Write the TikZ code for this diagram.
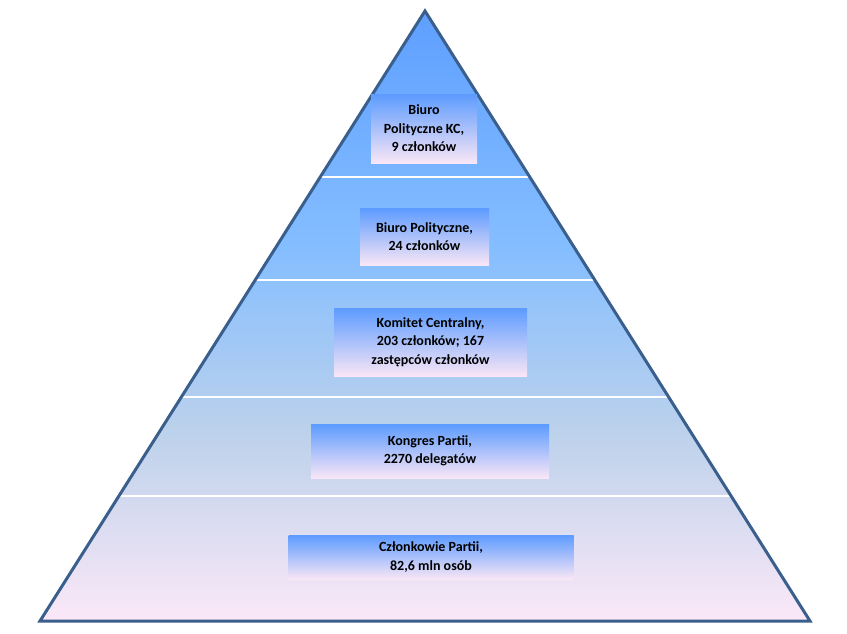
\documentclass[tikz,border=0pt]{standalone}
\usepackage{fontspec}
\setmainfont{Carlito}
\usetikzlibrary{calc}
\definecolor{edgeblue}{HTML}{3A5F8C}
\definecolor{pyrtop}{HTML}{5E9FFF}
\definecolor{pyrupper}{HTML}{85BEFF}
\definecolor{pyrlower}{HTML}{BED2EB}
\definecolor{pyrbot}{HTML}{FBE8F8}
\definecolor{boxtop}{HTML}{5C9BFF}
\definecolor{boxmid}{HTML}{A6CDF6}
\definecolor{boxbot}{HTML}{F9E6F6}
\pgfdeclareverticalshading{pyrshade}{100bp}{color(0bp)=(pyrbot); color(25bp)=(pyrbot);
  color(40bp)=(pyrlower); color(55.5bp)=(pyrupper); color(75bp)=(pyrtop); color(100bp)=(pyrtop)}

\begin{document}
\begin{tikzpicture}[x=1pt, y=-1pt,
  box/.style={rectangle, inner sep=0pt, align=center,
              top color=boxtop, middle color=boxmid, bottom color=boxbot},
  sep/.style={white, line width=2.6pt},
  every node/.style={font=\bfseries\fontsize{14}{18.5}\selectfont}
]
  \useasboundingbox (0,0) rectangle (847,633);
  \coordinate (apex) at (425,11);
  \coordinate (bl) at (40,621);
  \coordinate (br) at (810,621);
  \shade[shading=pyrshade] (apex) -- (bl) -- (br) -- cycle;
  % white bands between levels
  \foreach \t in {0.272, 0.441, 0.633, 0.795}
    \draw[sep] ($(apex)!\t!(bl)$) -- ($(apex)!\t!(br)$);
  \draw[edgeblue, line width=3pt, line join=miter] (apex) -- (bl) -- (br) -- cycle;

  \node[box, minimum width=106pt, minimum height=69pt] (kc) at (424,128.5)
    {Biuro\\Polityczne KC,\\9 członków};
  \node[box, minimum width=129pt, minimum height=57pt] (bp) at (424.5,236.5)
    {Biuro Polityczne,\\24 członków};
  \node[box, minimum width=193pt, minimum height=68pt] (kom) at (430.5,342)
    {Komitet Centralny,\\203 członków; 167\\zastępców członków};
  \node[box, minimum width=238pt, minimum height=54pt] (kon) at (430,451)
    {Kongres Partii,\\2270 delegatów};
  \node[box, minimum width=285pt, minimum height=44pt] (czl) at (431,557)
    {Członkowie Partii,\\82,6 mln osób};
\end{tikzpicture}
\end{document}
